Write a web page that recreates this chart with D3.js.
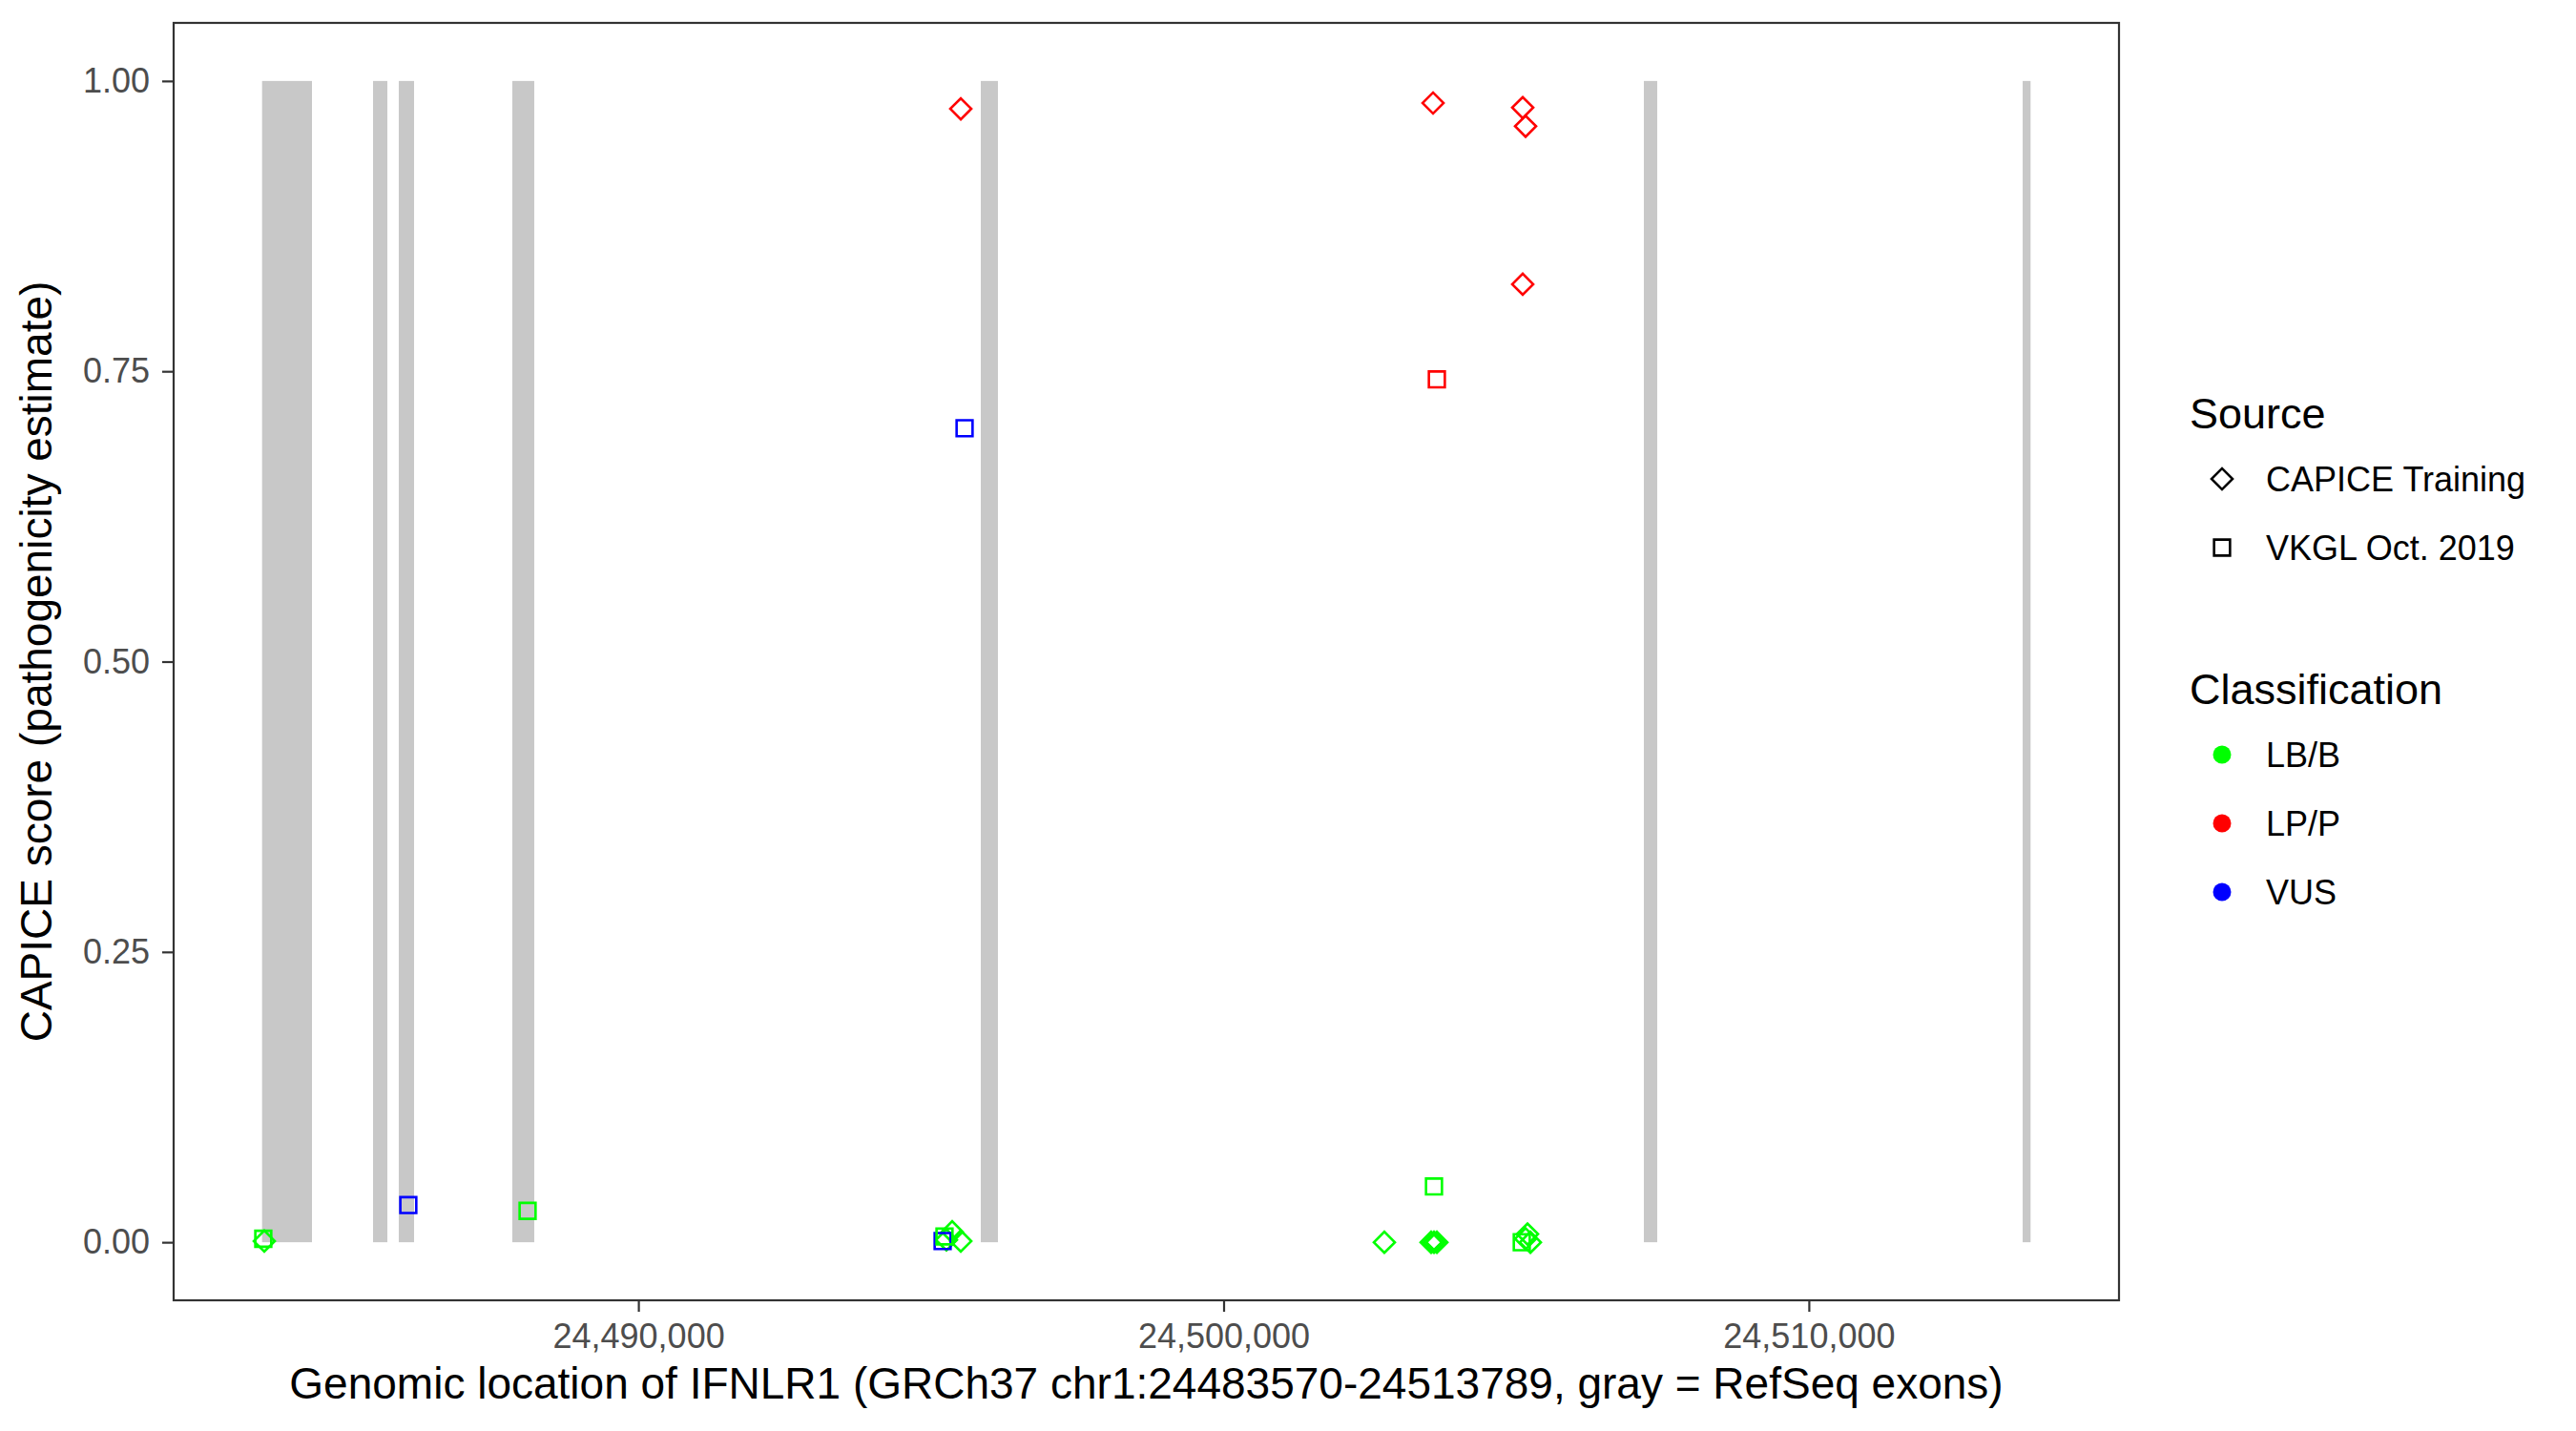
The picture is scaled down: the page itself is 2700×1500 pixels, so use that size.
<!DOCTYPE html>
<html>
<head>
<meta charset="utf-8">
<script src="https://cdn.jsdelivr.net/npm/d3@7"></script>
<style>
  body { margin: 0; background: #fff; }
  text { font-family: "Liberation Sans", Arial, Helvetica, sans-serif; }
</style>
</head>
<body>
<div id="my_dataviz"></div>
<script>
// gene region and RefSeq exons (GRCh37 chr1)
var geneStart = 24483570, geneEnd = 24513789;
var exonStarts = [24483570, 24485466, 24485906, 24487846, 24495851, 24507181, 24513654];
var exonEnds   = [24484423, 24485711, 24486167, 24488221, 24496144, 24507410, 24513789];

// CAPICE training variants (diamonds)
var capicePos   = [24483608, 24495264, 24495362, 24495509, 24495509, 24502747, 24503546, 24503595, 24503644,
                   24503579, 24505111, 24505160, 24505111, 24505193, 24505160, 24505242];
var capiceScore = [0.001, 0.002, 0.009, 0.001, 0.976, 0.000, 0.000, 0.000, 0.000,
                   0.981, 0.977, 0.961, 0.825, 0.007, 0.003, 0.000];
var capiceClass = ["LB/B", "LB/B", "LB/B", "LB/B", "LP/P", "LB/B", "LB/B", "LB/B", "LB/B",
                   "LP/P", "LP/P", "LP/P", "LP/P", "LB/B", "LB/B", "LB/B"];

// VKGL Oct. 2019 variants (squares)
var vkglPos   = [24483591, 24486069, 24488107, 24495199, 24495231, 24495574, 24503595, 24503644, 24505095];
var vkglScore = [0.003, 0.032, 0.027, 0.001, 0.005, 0.701, 0.048, 0.743, 0.000];
var vkglClass = ["LB/B", "VUS", "LB/B", "VUS", "LB/B", "VUS", "LB/B", "LP/P", "LB/B"];

var xTicks = [24490000, 24500000, 24510000];
var yTicks = [0, 0.25, 0.5, 0.75, 1];
var sourceLabels = ["CAPICE Training", "VKGL Oct. 2019"];
var classLabels = ["LB/B", "LP/P", "VUS"];
var classColors = ["#00ff00", "#ff0000", "#0000ff"];

var margin = {top: 24, right: 479, bottom: 137, left: 182};
var width = 2700 - margin.left - margin.right,
  height = 1500 - margin.top - margin.bottom;

var svgRoot = d3.select("#my_dataviz")
  .append("svg")
  .attr("width", 2700)
  .attr("height", 1500);

var svg = svgRoot.append("g")
  .attr("transform", "translate(" + margin.left + "," + margin.top + ")");

var pad = (geneEnd - geneStart) * 0.05;
var x = d3.scaleLinear()
  .domain([geneStart - pad, geneEnd + pad])
  .range([0, width]);

var y = d3.scaleLinear()
  .domain([-0.05, 1.05])
  .range([height, 0]);

var color = d3.scaleOrdinal()
  .domain(classLabels)
  .range(classColors);

// symbols: open diamond and open square
var diamondPath = d3.symbol().type(d3.symbolSquare).size(242)();
var squarePath = d3.symbol().type(d3.symbolSquare).size(279)();

// exons
var exons = exonStarts.map(function (s, i) { return {start: s, end: exonEnds[i]}; });
svg.selectAll("rect.exon")
  .data(exons)
  .enter()
  .append("rect")
  .attr("class", "exon")
  .attr("x", function (d) { return x(d.start); })
  .attr("width", function (d) { return x(d.end) - x(d.start); })
  .attr("y", y(1))
  .attr("height", y(0) - y(1))
  .attr("fill", "#c8c8c8");

var capice = capicePos.map(function (p, i) {
  return {pos: p, score: capiceScore[i], cls: capiceClass[i]};
});
var vkgl = vkglPos.map(function (p, i) {
  return {pos: p, score: vkglScore[i], cls: vkglClass[i]};
});

svg.selectAll("path.capice")
  .data(capice)
  .enter()
  .append("path")
  .attr("class", "capice")
  .attr("d", diamondPath)
  .attr("transform", function (d) { return "translate(" + x(d.pos) + "," + y(d.score) + ") rotate(45)"; })
  .attr("fill", "none")
  .attr("stroke", function (d) { return color(d.cls); })
  .attr("stroke-width", 2.6);

svg.selectAll("path.vkgl")
  .data(vkgl)
  .enter()
  .append("path")
  .attr("class", "vkgl")
  .attr("d", squarePath)
  .attr("transform", function (d) { return "translate(" + x(d.pos) + "," + y(d.score) + ")"; })
  .attr("fill", "none")
  .attr("stroke", function (d) { return color(d.cls); })
  .attr("stroke-width", 2.6);

// axes
var xAxis = svg.append("g")
  .attr("transform", "translate(0," + height + ")")
  .call(d3.axisBottom(x).tickValues(xTicks).tickFormat(d3.format(",")).tickSize(12).tickPadding(12));
var yAxis = svg.append("g")
  .call(d3.axisLeft(y).tickValues(yTicks).tickFormat(d3.format(".2f")).tickSize(12).tickPadding(13));

[xAxis, yAxis].forEach(function (a) {
  a.select(".domain").remove();
  a.selectAll(".tick line").attr("stroke", "#333333").attr("stroke-width", 2.2);
  a.selectAll(".tick text")
    .attr("fill", "#4d4d4d")
    .style("font-size", "36px")
    .style("font-family", "'Liberation Sans', Arial, Helvetica, sans-serif");
});

// panel border
svg.append("rect")
  .attr("width", width)
  .attr("height", height)
  .attr("fill", "none")
  .attr("stroke", "#333333")
  .attr("stroke-width", 2.2);

// axis titles
svgRoot.append("text")
  .attr("x", margin.left + width / 2)
  .attr("y", 1466)
  .attr("text-anchor", "middle")
  .style("font-size", "46px")
  .text("Genomic location of IFNLR1 (GRCh37 chr1:24483570-24513789, gray = RefSeq exons)");

svgRoot.append("text")
  .attr("transform", "translate(54," + (margin.top + height / 2) + ") rotate(-90)")
  .attr("text-anchor", "middle")
  .style("font-size", "46px")
  .text("CAPICE score (pathogenicity estimate)");

// legends
var legend = svgRoot.append("g");
legend.append("text")
  .attr("x", 2295).attr("y", 449)
  .style("font-size", "45px")
  .text("Source");

var sourceKeys = [diamondPath, squarePath];
var sourceRot = [45, 0];
sourceLabels.forEach(function (lab, i) {
  var cy = 502 + i * 72;
  legend.append("path")
    .attr("d", sourceKeys[i])
    .attr("transform", "translate(2329," + cy + ") rotate(" + sourceRot[i] + ")")
    .attr("fill", "none")
    .attr("stroke", "#000")
    .attr("stroke-width", 2.6);
  legend.append("text")
    .attr("x", 2375).attr("y", cy + 13)
    .style("font-size", "36px")
    .text(lab);
});

legend.append("text")
  .attr("x", 2295).attr("y", 738)
  .style("font-size", "45px")
  .text("Classification");

classLabels.forEach(function (lab, i) {
  var cy = 791 + i * 72;
  legend.append("circle")
    .attr("cx", 2329).attr("cy", cy)
    .attr("r", 9.5)
    .attr("fill", color(lab));
  legend.append("text")
    .attr("x", 2375).attr("y", cy + 13)
    .style("font-size", "36px")
    .text(lab);
});
</script>
</body>
</html>
